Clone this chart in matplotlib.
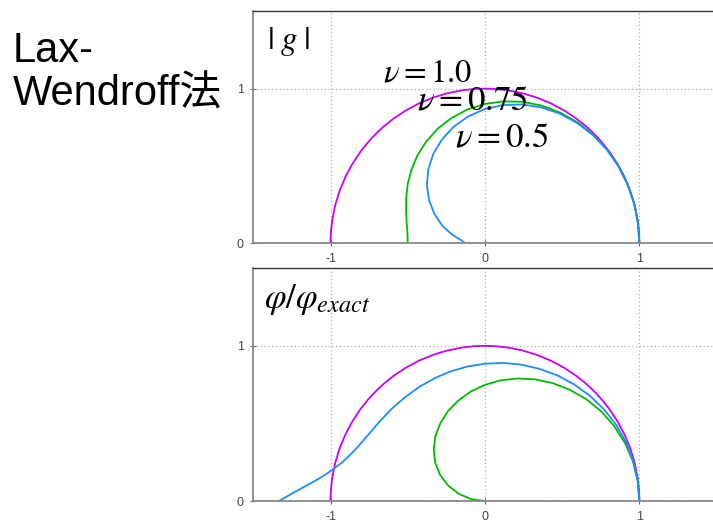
import matplotlib
matplotlib.use("Agg")
import matplotlib.pyplot as plt
from matplotlib.patches import Arc

plt.rcParams['font.family'] = ['Liberation Sans', 'Noto Sans CJK JP']
plt.rcParams['mathtext.fontset'] = 'stix'
plt.rcParams['axes.unicode_minus'] = False

# amplification factor |g| (upper panel), points along each curve
g_nu05_x = [1.0, 0.991, 0.966, 0.923, 0.865, 0.790, 0.701, 0.600, 0.488, 0.369, 0.245, 0.121, 0.0,
            -0.114, -0.217, -0.307, -0.380, -0.437, -0.476, -0.500, -0.510, -0.511, -0.507, -0.502, -0.500]
g_nu05_y = [0.0, 0.131, 0.259, 0.382, 0.499, 0.606, 0.701, 0.782, 0.845, 0.890, 0.915, 0.918, 0.901,
            0.865, 0.810, 0.740, 0.658, 0.569, 0.476, 0.384, 0.295, 0.212, 0.136, 0.066, 0.0]
g_nu075_x = [1.0, 0.991, 0.966, 0.923, 0.864, 0.789, 0.700, 0.597, 0.484, 0.364, 0.241, 0.118, 0.0,
             -0.108, -0.202, -0.278, -0.334, -0.367, -0.376, -0.362, -0.327, -0.276, -0.214, -0.154, -0.125]
g_nu075_y = [0.0, 0.131, 0.259, 0.382, 0.499, 0.606, 0.700, 0.778, 0.839, 0.879, 0.898, 0.894, 0.868,
             0.821, 0.754, 0.672, 0.579, 0.478, 0.376, 0.278, 0.189, 0.114, 0.057, 0.020, 0.0]

# phase ratio phi/phi_exact (lower panel)
p_nu05_x = [1.0, 0.989, 0.958, 0.906, 0.837, 0.753, 0.656, 0.550, 0.439, 0.325, 0.212, 0.102, 0.0,
            -0.093, -0.173, -0.240, -0.289, -0.321, -0.332, -0.322, -0.290, -0.237, -0.167, -0.085, 0.0]
p_nu05_y = [0.0, 0.130, 0.257, 0.375, 0.483, 0.578, 0.656, 0.717, 0.760, 0.784, 0.790, 0.778, 0.749,
            0.705, 0.647, 0.579, 0.501, 0.418, 0.332, 0.247, 0.167, 0.098, 0.045, 0.011, 0.0]
p_nu075_x = [1.0, 0.990, 0.961, 0.914, 0.850, 0.771, 0.679, 0.577, 0.468, 0.353, 0.235, 0.117, 0.0,
             -0.114, -0.224, -0.327, -0.425, -0.515, -0.599, -0.676, -0.751, -0.829, -0.858, -0.926,
             -1.018, -1.079, -1.153, -1.240, -1.333]
p_nu075_y = [0.0, 0.130, 0.258, 0.378, 0.491, 0.591, 0.679, 0.752, 0.810, 0.852, 0.879, 0.890, 0.885,
             0.867, 0.835, 0.791, 0.736, 0.671, 0.599, 0.519, 0.433, 0.343, 0.312, 0.248,
             0.180, 0.142, 0.101, 0.054, 0.0]

# nu = 1.0 gives |g| = 1 and phi/phi_exact = 1
r_nu1 = 1.0

xticks = [-1, 0, 1]
yticks = [0, 1]

c_mag = '#c800ff'
c_blue = '#1e8cff'
c_green = '#00bb00'

fig = plt.figure(figsize=(7.13, 5.22), dpi=100)
ax1 = fig.add_axes([0.3553, 0.5339, 0.6497, 0.4444])
ax2 = fig.add_axes([0.3553, 0.0402, 0.6497, 0.4458])


def style(ax):
    ax.set_xlim(-1.5, 1.5)
    ax.set_ylim(0, 1.5)
    ax.set_xticks(xticks)
    ax.set_yticks(yticks)
    ax.grid(True, color='#aaaaaa', linestyle=(0, (1, 2)), linewidth=0.9)
    ax.set_axisbelow(True)
    for s in ['bottom', 'left']:
        ax.spines[s].set_color('#888888')
        ax.spines[s].set_linewidth(1.3)
    ax.spines['top'].set_color('#333333')
    ax.spines['top'].set_linewidth(1.0)
    ax.spines['right'].set_visible(False)
    ax.tick_params(direction='inout', length=4, width=0.8, color='#666666',
                   labelsize=9, labelcolor='#444444', pad=5)


for ax in (ax1, ax2):
    style(ax)

ax1.plot(g_nu05_x, g_nu05_y, color=c_green, lw=1.3)
ax1.plot(g_nu075_x, g_nu075_y, color=c_blue, lw=1.3)
ax1.add_patch(Arc((0, 0), 2 * r_nu1, 2 * r_nu1, theta1=0, theta2=180, color=c_mag, lw=1.3))

ax2.plot(p_nu05_x, p_nu05_y, color=c_green, lw=1.3)
ax2.plot(p_nu075_x, p_nu075_y, color=c_blue, lw=1.3)
ax2.add_patch(Arc((0, 0), 2 * r_nu1, 2 * r_nu1, theta1=0, theta2=180, color=c_mag, lw=1.3))

ax1.text(-1.41, 1.41, r'$|\;g\;|$', fontsize=24, va='top', ha='left')
ax1.text(-0.661, 1.045, r'$\nu = 1.0$', fontsize=23.5, va='baseline')
ax1.text(-0.44, 0.864, r'$\nu = 0.75$', fontsize=25, va='baseline')
ax1.text(-0.194, 0.624, r'$\nu = 0.5$', fontsize=25, va='baseline')

ax2.text(-1.43, 1.41, r'$\varphi/\varphi_{exact}$', fontsize=25, va='top', ha='left')

fig.text(13 / 713, 1 - 61.7 / 522, 'Lax-', fontsize=30, va='baseline', ha='left')
fig.text(13 / 713, 1 - 106 / 522, 'Wendroff法', fontsize=30, va='baseline', ha='left')

fig.savefig('out.png', dpi=100)
